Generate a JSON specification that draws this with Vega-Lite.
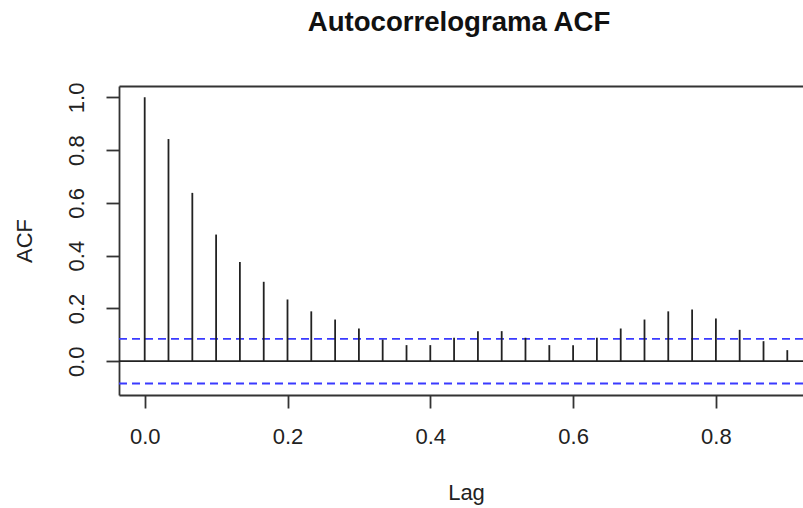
{
  "$schema": "https://vega.github.io/schema/vega-lite/v6.json",
  "width": 684,
  "height": 309,
  "autosize": {"type": "none"},
  "padding": {"left": 119, "top": 86, "right": 0, "bottom": 113},
  "background": "white",
  "config": {
    "font": "Liberation Sans",
    "view": {"stroke": null},
    "axis": {
      "grid": false,
      "labelFont": "Liberation Sans",
      "titleFont": "Liberation Sans",
      "labelFontSize": 22,
      "titleFontSize": 22,
      "titleFontWeight": "normal",
      "labelColor": "#222",
      "titleColor": "#222",
      "tickColor": "#333",
      "tickWidth": 1.8,
      "tickSize": 13,
      "domainColor": "#333",
      "domainWidth": 1.8
    }
  },
  "title": {
    "text": "Autocorrelograma ACF",
    "fontSize": 27.6,
    "fontWeight": "bold",
    "font": "Liberation Sans",
    "color": "#111",
    "anchor": "middle",
    "frame": "group",
    "baseline": "alphabetic",
    "offset": 23,
    "dx": -2
  },
  "datasets": {
    "acf": [
      {"lag": 0.0, "acf": 1.0},
      {"lag": 0.0333, "acf": 0.842},
      {"lag": 0.0667, "acf": 0.638},
      {"lag": 0.1, "acf": 0.48},
      {"lag": 0.1333, "acf": 0.376},
      {"lag": 0.1667, "acf": 0.301},
      {"lag": 0.2, "acf": 0.234},
      {"lag": 0.2333, "acf": 0.189},
      {"lag": 0.2667, "acf": 0.158},
      {"lag": 0.3, "acf": 0.124},
      {"lag": 0.3333, "acf": 0.082},
      {"lag": 0.3667, "acf": 0.061},
      {"lag": 0.4, "acf": 0.061},
      {"lag": 0.4333, "acf": 0.089},
      {"lag": 0.4667, "acf": 0.114},
      {"lag": 0.5, "acf": 0.114},
      {"lag": 0.5333, "acf": 0.089},
      {"lag": 0.5667, "acf": 0.061},
      {"lag": 0.6, "acf": 0.061},
      {"lag": 0.6333, "acf": 0.089},
      {"lag": 0.6667, "acf": 0.124},
      {"lag": 0.7, "acf": 0.158},
      {"lag": 0.7333, "acf": 0.189},
      {"lag": 0.7667, "acf": 0.196},
      {"lag": 0.8, "acf": 0.162},
      {"lag": 0.8333, "acf": 0.119},
      {"lag": 0.8667, "acf": 0.076},
      {"lag": 0.9, "acf": 0.042}
    ],
    "ci": [
      {"ci": 0.0845},
      {"ci": -0.0845}
    ]
  },
  "resolve": {"axis": {"x": "independent", "y": "independent"}},
  "layer": [
    {
      "data": {"name": "ci"},
      "mark": {"type": "rule", "color": "#3a3aff", "strokeWidth": 1.8, "strokeDash": [8, 5]},
      "encoding": {
        "y": {"field": "ci", "type": "quantitative", "scale": {"domain": [-0.128, 1.043], "nice": false, "zero": false}, "axis": null}
      }
    },
    {
      "data": {"name": "acf"},
      "mark": {"type": "rule", "color": "#222", "strokeWidth": 1.8, "clip": true},
      "encoding": {
        "x": {
          "field": "lag", "type": "quantitative",
          "scale": {"domain": [-0.036, 0.922], "nice": false, "zero": false},
          "axis": {
            "orient": "bottom",
            "values": [0, 0.2, 0.4, 0.6, 0.8],
            "format": ".1f",
            "labelBaseline": "top",
            "labelPadding": 18,
            "title": "Lag",
            "titleX": 347,
            "titleY": 97,
            "titleBaseline": "middle",
            "titleAlign": "center"
          }
        },
        "y": {
          "field": "acf", "type": "quantitative",
          "scale": {"domain": [-0.128, 1.043], "nice": false, "zero": false},
          "axis": {
            "orient": "left",
            "values": [0, 0.2, 0.4, 0.6, 0.8, 1.0],
            "format": ".1f",
            "labelAngle": 270,
            "labelAlign": "center",
            "labelBaseline": "bottom",
            "labelPadding": 18,
            "title": "ACF",
            "titleAngle": 270,
            "titleX": -95,
            "titleY": 154.5,
            "titleBaseline": "middle",
            "titleAlign": "center"
          }
        },
        "y2": {"datum": 0}
      }
    },
    {
      "data": {"name": "acf"},
      "mark": {"type": "rule", "opacity": 0},
      "encoding": {
        "x": {
          "field": "lag", "type": "quantitative",
          "axis": {"orient": "top", "labels": false, "ticks": false, "title": null, "domain": true}
        }
      }
    },
    {
      "data": {"values": [{"z": 0}]},
      "mark": {"type": "rule", "color": "#222", "strokeWidth": 1.8},
      "encoding": {
        "y": {"field": "z", "type": "quantitative", "axis": null}
      }
    }
  ]
}
